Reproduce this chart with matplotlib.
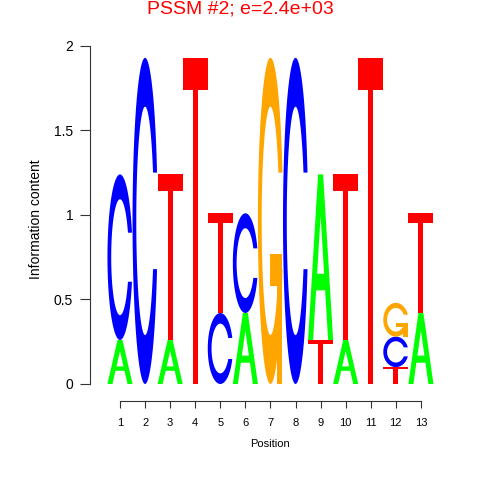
import matplotlib
matplotlib.use("Agg")
import numpy as np
import matplotlib.pyplot as plt
from matplotlib.patches import Polygon

plt.rcParams['font.family'] = ['Liberation Sans', 'DejaVu Sans']

# information content per base at each position
positions = list(range(1, 14))
height_A = [0.26, 0.00, 0.26, 0.00, 0.00, 0.42, 0.00, 0.00, 0.98, 0.26, 0.00, 0.00, 0.42]
height_C = [0.98, 1.93, 0.00, 0.00, 0.42, 0.59, 0.00, 1.93, 0.00, 0.00, 0.00, 0.18, 0.00]
height_G = [0.00, 0.00, 0.00, 0.00, 0.00, 0.00, 1.93, 0.00, 0.00, 0.00, 0.00, 0.20, 0.00]
height_T = [0.00, 0.00, 0.98, 1.93, 0.59, 0.00, 0.00, 0.00, 0.26, 0.98, 1.93, 0.10, 0.59]

colors = {'A': '#00ff00', 'C': '#0000ff', 'G': '#ffa500', 'T': '#ff0000'}
title = "PSSM #2; e=2.4e+03"


# letter outlines in a unit box, like the classic seqLogo polygons
def ring_shape():
    a_out = np.arcsin(0.148 / 0.5)
    a_in = np.arcsin(0.148 / 0.35)
    t1 = np.linspace(a_out, 2 * np.pi - a_out, 120)
    t2 = np.linspace(2 * np.pi - a_in, a_in, 120)
    outer = np.c_[0.5 + 0.5 * np.cos(t1), 0.5 + 0.5 * np.sin(t1)]
    inner = np.c_[0.5 + 0.35 * np.cos(t2), 0.5 + 0.35 * np.sin(t2)]
    return np.vstack([outer, inner])


r1 = 0.5 + 0.5 * np.cos(np.arcsin(0.148 / 0.5))
shapes = {
    'A': [np.array([[0, 0], [0.4, 1], [0.6, 1], [1, 0], [0.8, 0], [0.68, 0.3],
                    [0.32, 0.3], [0.2, 0]]),
          np.array([[0.36, 0.4], [0.5, 0.75], [0.64, 0.4]])],
    'C': [ring_shape()],
    'G': [ring_shape(),
          np.array([[r1, 0.4], [0.5, 0.4], [0.5, 0.3], [r1 - 0.2, 0.3],
                    [r1 - 0.2, 0], [r1, 0]])],
    'T': [np.array([[0, 1], [1, 1], [1, 0.9], [0.6, 0.9], [0.6, 0],
                    [0.4, 0], [0.4, 0.9], [0, 0.9]])],
}


def draw_letter(ax, ch, x, y, w, h, color):
    parts = shapes[ch]
    if ch == 'A':
        # outer shape, then punch the hole in white
        for k, p in enumerate(parts):
            xy = np.c_[x - w / 2 + w * p[:, 0], y + h * p[:, 1]]
            ax.add_patch(Polygon(xy, closed=True, fc=color if k == 0 else 'white',
                                 ec='none', lw=0))
        return
    for p in parts:
        xy = np.c_[x - w / 2 + w * p[:, 0], y + h * p[:, 1]]
        ax.add_patch(Polygon(xy, closed=True, fc=color, ec='none', lw=0))


fig = plt.figure(figsize=(4.8, 4.8), dpi=100)
ax = fig.add_axes([0.1873, 0.1648, 0.7523, 0.7571])

for i, pos in enumerate(positions):
    col = [('A', height_A[i]), ('C', height_C[i]), ('G', height_G[i]), ('T', height_T[i])]
    col = sorted([c for c in col if c[1] > 0], key=lambda c: c[1])
    base = 0.0
    for ch, h in col:
        draw_letter(ax, ch, pos, base, 1.0, h, colors[ch])
        base += h

ax.set_xlim(-0.2, 14.2)
ax.set_ylim(-0.1, 2.05)
for s in ['top', 'right']:
    ax.spines[s].set_visible(False)
ax.spines['left'].set_bounds(0, 2)
ax.spines['bottom'].set_bounds(1, 13)
ax.spines['left'].set_color('#333333')
ax.spines['bottom'].set_color('#333333')

ax.set_yticks([0, 0.5, 1, 1.5, 2])
ax.set_yticklabels(['0', '0.5', '1', '1.5', '2'])
ax.set_xticks(positions)
ax.tick_params(axis='y', length=7, pad=5, labelsize=10, color='#333333')
ax.tick_params(axis='x', length=5, pad=7, labelsize=8, color='#333333')

ax.set_ylabel("Information content", fontsize=10, labelpad=8)
ax.set_xlabel("Position", fontsize=8, labelpad=8)

fig.text(0.5, 1 - 9 / 480, title, color='red', fontsize=14, ha='center', va='center')

fig.savefig("out.png", dpi=100)
